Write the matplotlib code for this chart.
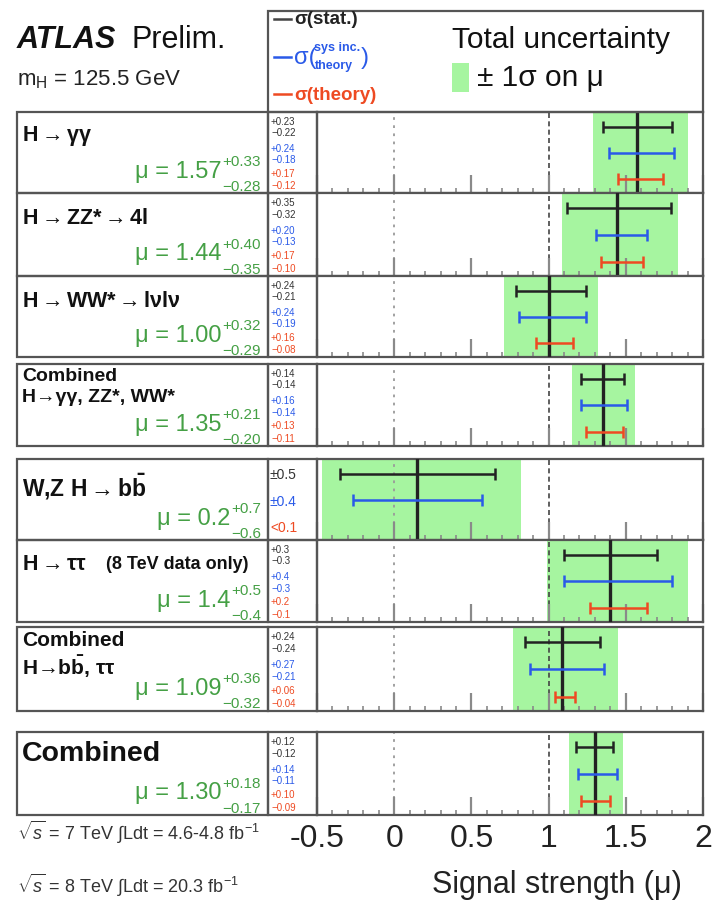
import matplotlib
matplotlib.use('Agg')
import matplotlib.pyplot as plt
import numpy as np
from matplotlib.patches import Rectangle
from matplotlib.ticker import MultipleLocator

plt.rcParams['font.family'] = ['Liberation Sans', 'DejaVu Sans']
plt.rcParams['mathtext.fontset'] = 'custom'
plt.rcParams['mathtext.rm'] = 'Liberation Sans'
plt.rcParams['mathtext.it'] = 'Liberation Sans:italic'
plt.rcParams['mathtext.bf'] = 'Liberation Sans:bold'
plt.rcParams['mathtext.sf'] = 'Liberation Sans'

# ---------------- data ----------------
channels = ["H → γγ", "H → ZZ* → 4l", "H → WW* → lνlν", "Combined γγ ZZ WW",
            "W,Z H → bb", "H → ττ", "Combined bb ττ", "Combined"]
mu = [1.57, 1.44, 1.00, 1.35, 0.15, 1.40, 1.09, 1.30]
mu_label = ["1.57", "1.44", "1.00", "1.35", "0.2", "1.4", "1.09", "1.30"]
tot_up = [0.33, 0.40, 0.32, 0.21, 0.67, 0.50, 0.36, 0.18]
tot_dn = [0.28, 0.35, 0.29, 0.20, 0.62, 0.41, 0.32, 0.17]
stat_up = [0.23, 0.35, 0.24, 0.14, 0.50, 0.30, 0.24, 0.12]
stat_dn = [0.22, 0.32, 0.21, 0.14, 0.50, 0.30, 0.24, 0.12]
sys_up = [0.24, 0.20, 0.24, 0.16, 0.42, 0.40, 0.27, 0.14]
sys_dn = [0.18, 0.13, 0.19, 0.14, 0.42, 0.30, 0.21, 0.11]
th_up = [0.17, 0.17, 0.16, 0.13, np.nan, 0.24, 0.08, 0.10]
th_dn = [0.12, 0.10, 0.08, 0.11, np.nan, 0.13, 0.05, 0.09]
decimals = [2, 2, 2, 2, 1, 1, 2, 2]
th_label = ["+0.17", "+0.17", "+0.16", "+0.13", "<0.1", "+0.2", "+0.06", "+0.10"]
th_label_dn = ["−0.12", "−0.10", "−0.08", "−0.11", "", "−0.1", "−0.04", "−0.09"]
xticks = [-0.5, 0, 0.5, 1, 1.5, 2]
xtick_labels = ["-0.5", "0", "0.5", "1", "1.5", "2"]

# ---------------- layout (pixels) ----------------
W, H = 714, 912
panels = [(113, 194), (194, 277), (277, 358), (365, 447),
          (460, 541), (541, 623), (628, 712), (733, 816)]
X_BOX, X_COL, X_PLOT, X_END = 17, 268, 317, 703

BAND = '#a6f5a0'
BLACK = '#222222'
BLUE = '#2a5ae8'
RED = '#ee4a22'
GREEN_T = '#45a045'
FRAME = '#555555'

fig = plt.figure(figsize=(W / 100, H / 100), dpi=100)
renderer = fig.canvas.get_renderer()


def fr(x0, y0, x1, y1):
    return [x0 / W, 1 - y1 / H, (x1 - x0) / W, (y1 - y0) / H]


for i, (top, bot) in enumerate(panels):
    ax = fig.add_axes(fr(X_PLOT, top, X_END, bot))
    ax.set_xlim(-0.5, 2)
    ax.set_ylim(0, 1)
    m = mu[i]
    ax.axvspan(m - tot_dn[i], m + tot_up[i], color=BAND, lw=0, zorder=0.5)
    ax.axvline(0, color='#9a9a9a', ls=(0, (1.5, 3)), lw=1.3, zorder=0.8)
    ax.axvline(1, color='#444444', ls=(0, (3, 2)), lw=1.2, zorder=0.8)
    ax.axvline(m, color=BLACK, lw=2.4, zorder=3)
    ek = dict(fmt='none', elinewidth=1.8, capsize=4.5, capthick=1.8, zorder=4)
    ax.errorbar([m], [0.82], xerr=[[stat_dn[i]], [stat_up[i]]], ecolor=BLACK, **ek)
    ax.errorbar([m], [0.50], xerr=[[sys_dn[i]], [sys_up[i]]], ecolor=BLUE, **ek)
    if not np.isnan(th_up[i]):
        ax.errorbar([m], [0.17], xerr=[[th_dn[i]], [th_up[i]]], ecolor=RED, **ek)
    ax.set_xticks(xticks)
    ax.xaxis.set_minor_locator(MultipleLocator(0.1))
    ax.set_yticks([])
    ax.tick_params(axis='x', which='major', direction='in', length=13, width=1.6,
                   color='#8a8a8a', labelbottom=False)
    ax.tick_params(axis='x', which='minor', direction='in', length=3.5, width=1.2,
                   color='#8a8a8a')
    for s in ax.spines.values():
        s.set_color(FRAME)
        s.set_linewidth(1.6)
    if i == len(panels) - 1:
        ax.set_xticklabels(xtick_labels)
        ax.tick_params(axis='x', which='major', labelbottom=True, labelsize=23,
                       pad=6, labelcolor='#222222')

# overlay in pixel coordinates
ov = fig.add_axes([0, 0, 1, 1])
ov.set_xlim(0, W)
ov.set_ylim(H, 0)
ov.axis('off')

for i, (top, bot) in enumerate(panels):
    h = bot - top
    ov.add_patch(Rectangle((X_BOX, top), X_COL - X_BOX, h, fill=False, ec=FRAME, lw=1.6))
    ov.add_patch(Rectangle((X_COL, top), X_PLOT - X_COL, h, fill=False, ec=FRAME, lw=1.6))
    d = decimals[i]
    # mu text with super/subscript
    t_sup = ov.text(261, top + 0.61 * h, f"+{tot_up[i]:.{d}f}", ha='right', va='center',
                    color=GREEN_T, fontsize=11)
    ov.text(261, top + 0.91 * h, f"−{tot_dn[i]:.{d}f}", ha='right', va='center',
            color=GREEN_T, fontsize=11)
    bb = t_sup.get_window_extent(renderer)
    ov.text(bb.x0 - 1, top + 0.80 * h, f"μ = {mu_label[i]}", ha='right', va='baseline',
            color=GREEN_T, fontsize=17)
    # small column numbers
    if np.isnan(th_up[i]):
        ov.text(270, top + 0.19 * h, f"±{stat_up[i]:.{d}f}", color='#333333', fontsize=10, va='center')
        ov.text(270, top + 0.52 * h, f"±{sys_up[i]:.{d}f}", color=BLUE, fontsize=10, va='center')
        ov.text(270, top + 0.84 * h, th_label[i], color=RED, fontsize=10, va='center')
    else:
        rows = [(f"+{stat_up[i]:.{d}f}", '#333333', 0.11), (f"−{stat_dn[i]:.{d}f}", '#333333', 0.25),
                (f"+{sys_up[i]:.{d}f}", BLUE, 0.44), (f"−{sys_dn[i]:.{d}f}", BLUE, 0.58),
                (th_label[i], RED, 0.75), (th_label_dn[i], RED, 0.90)]
        for txt, c, fy in rows:
            ov.text(271, top + fy * h, txt, color=c, fontsize=7, va='center')

# channel labels
lab = dict(fontweight='bold', color='#111111', va='center', ha='left')
ARR = r"$\rightarrow$"
ov.text(22, panels[0][0] + 23, f"H{ARR}γγ", fontsize=15.5, **lab)
ov.text(22, panels[1][0] + 25, f"H{ARR}ZZ*{ARR}4l", fontsize=15.5, **lab)
ov.text(22, panels[2][0] + 25, f"H{ARR}WW*{ARR}lνlν", fontsize=15.5, **lab)
ov.text(22, panels[3][0] + 12, "Combined", fontsize=14, **lab)
ov.text(22, panels[3][0] + 33, "H→γγ, ZZ*, WW*", fontsize=14, **lab)
ov.text(22, panels[4][0] + 27, f"W,Z H{ARR}" + r"b$\mathbf{\bar{b}}$", fontsize=16.5, **lab)
ov.text(22, panels[5][0] + 24, f"H{ARR}ττ", fontsize=15.5, **lab)
ov.text(106, panels[5][0] + 24, "(8 TeV data only)", fontsize=13, **lab)
ov.text(22, panels[6][0] + 13, "Combined", fontsize=15, **lab)
ov.text(22, panels[6][0] + 39, "H→b" + r"$\mathbf{\bar{b}}$, ττ", fontsize=15, **lab)
ov.text(22, panels[7][0] + 21, "Combined", fontsize=20.5, **lab)

# header
ov.text(17, 40, "ATLAS", fontsize=22, fontweight='bold', fontstyle='italic', va='center', color='#111111')
ov.text(132, 40, "Prelim.", fontsize=22, va='center', color='#111111')
ov.text(17, 80, r"m$_{\mathrm{H}}$ = 125.5 GeV", fontsize=16, va='center', color='#222222')

# legend box
ov.add_patch(Rectangle((X_COL, 12), X_END - X_COL, 101, fill=False, ec=FRAME, lw=1.6))
for yy, c in [(20, '#444444'), (58, BLUE), (95, RED)]:
    ov.plot([274, 291], [yy, yy], color=c, lw=1.8)
ov.text(294, 20, "σ(stat.)", fontsize=13.5, fontweight='bold', color='#222222', va='center')
ov.text(294, 58, "σ(", fontsize=17, color=BLUE, va='center')
ov.text(314, 48, "sys inc.", fontsize=9, fontweight='bold', color=BLUE, va='center')
ov.text(315, 66, "theory", fontsize=9, fontweight='bold', color=BLUE, va='center')
ov.text(361, 58, ")", fontsize=17, color=BLUE, va='center')
ov.text(294, 95, "σ(theory)", fontsize=13.5, fontweight='bold', color=RED, va='center')
ov.text(452, 40, "Total uncertainty", fontsize=21.5, color='#111111', va='center')
ov.add_patch(Rectangle((452, 64), 17, 29, color=BAND, lw=0))
ov.text(477, 78, "± 1σ on μ", fontsize=21.5, color='#111111', va='center')

# bottom texts
ov.text(17, 832, r"$\sqrt{s}$ = 7 TeV $\int$Ldt = 4.6-4.8 fb$^{-1}$", fontsize=13, color='#333333', va='center')
ov.text(17, 885, r"$\sqrt{s}$ = 8 TeV $\int$Ldt = 20.3 fb$^{-1}$", fontsize=13, color='#333333', va='center')
ov.text(557, 885, "Signal strength (μ)", fontsize=22, color='#222222', va='center', ha='center')

fig.savefig('out.png', dpi=100)
